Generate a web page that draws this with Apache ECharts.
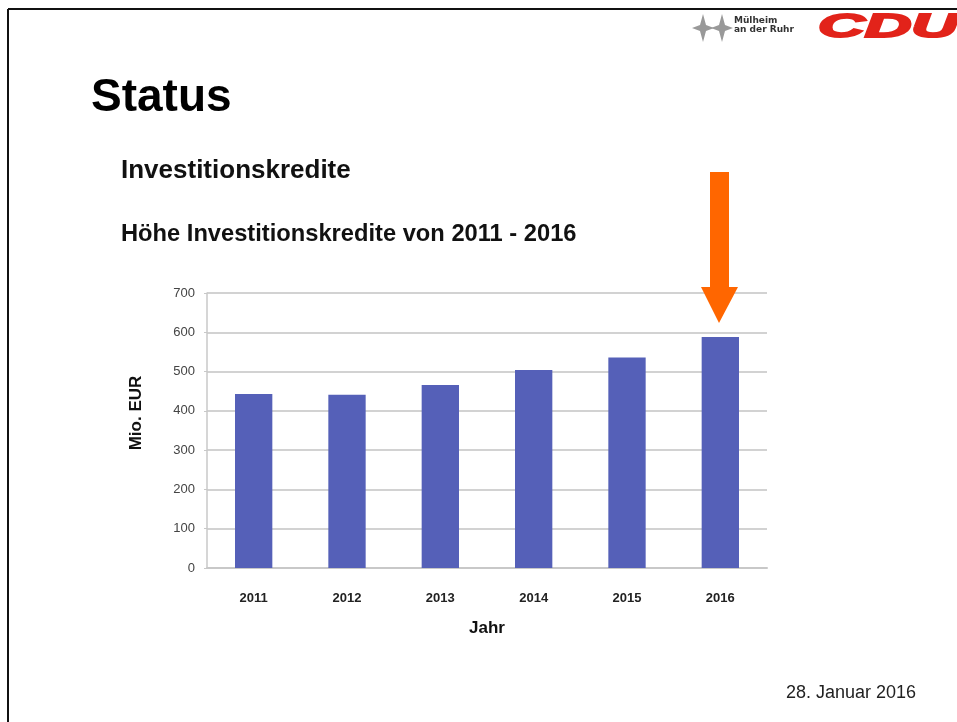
<!DOCTYPE html>
<html>
<head>
<meta charset="utf-8">
<script src="https://cdn.jsdelivr.net/npm/echarts@6/dist/echarts.min.js"></script>
<style>
  html, body { margin: 0; padding: 0; background: #fff; }
  #chart { width: 957px; height: 722px; }
</style>
</head>
<body>
<div id="chart"></div>
<script>
const years = ['2011', '2012', '2013', '2014', '2015', '2016'];
const credits = [443, 441, 466, 504, 536, 588];
const yMin = 0;
const yMax = 700;
const yStep = 100;

const FONT = '"Liberation Sans", Arial, sans-serif';

// little four-pointed star for the city logo
const star = (cx, cy) => ({
    type: 'polygon',
    shape: {
        points: [
            [cx, cy - 14], [cx + 3, cy - 3], [cx + 11, cy], [cx + 3, cy + 3],
            [cx, cy + 14], [cx - 3, cy + 3], [cx - 11, cy], [cx - 3, cy - 3]
        ]
    },
    style: { fill: '#999' }
});

const chart = echarts.init(document.getElementById('chart'), null, { renderer: 'canvas' });

chart.setOption({
    backgroundColor: '#fff',
    animation: false,
    grid: { left: 207, right: 190, top: 293, bottom: 154 },
    xAxis: {
        type: 'category',
        data: years,
        name: 'Jahr',
        nameLocation: 'middle',
        nameGap: 52,
        nameTextStyle: { fontFamily: FONT, fontSize: 17, fontWeight: 'bold', color: '#111' },
        axisLine: { lineStyle: { color: '#c8c8c8', width: 2 } },
        axisTick: { show: false },
        axisLabel: { margin: 24, fontFamily: FONT, fontSize: 13, fontWeight: 'bold', color: '#222' }
    },
    yAxis: {
        type: 'value',
        min: yMin,
        max: yMax,
        interval: yStep,
        axisLine: { show: true, lineStyle: { color: '#c8c8c8', width: 1.5 } },
        axisTick: { show: true, length: 3, lineStyle: { color: '#c8c8c8' } },
        axisLabel: { margin: 12, fontFamily: FONT, fontSize: 13, color: '#444' },
        splitLine: { lineStyle: { color: '#d2d2d2', width: 2 } }
    },
    series: [{
        type: 'bar',
        data: credits,
        barWidth: '40%',
        itemStyle: { color: '#5560b8' }
    }],
    graphic: [
        // slide frame
        { type: 'line', shape: { x1: 8, y1: 9, x2: 957, y2: 9 }, style: { stroke: '#111', lineWidth: 2 } },
        { type: 'line', shape: { x1: 8, y1: 9, x2: 8, y2: 722 }, style: { stroke: '#111', lineWidth: 2 } },
        // logo
        star(703, 28),
        star(722, 28),
        { type: 'text', left: 734, top: 16, style: { text: 'Mülheim', font: 'bold 9px "DejaVu Sans", sans-serif', fill: '#333' } },
        { type: 'text', left: 734, top: 25, style: { text: 'an der Ruhr', font: 'bold 9px "DejaVu Sans", sans-serif', fill: '#333' } },
        { type: 'text', x: 818, y: 28, scaleX: 1.9, style: { text: 'CDU', font: 'italic bold 34px ' + FONT, fill: '#e2231a', stroke: '#e2231a', lineWidth: 2, verticalAlign: 'middle' } },
        // headings
        { type: 'text', x: 91, y: 98, style: { text: 'Status', font: 'bold 46px ' + FONT, fill: '#000', verticalAlign: 'middle' } },
        { type: 'text', x: 121, y: 171, style: { text: 'Investitionskredite', font: 'bold 26px ' + FONT, fill: '#111', verticalAlign: 'middle' } },
        { type: 'text', x: 121, y: 234, style: { text: 'Höhe Investitionskredite von 2011 - 2016', font: 'bold 23.7px ' + FONT, fill: '#111', verticalAlign: 'middle' } },
        { type: 'text', x: 786, y: 693, style: { text: '28. Januar 2016', font: '18px ' + FONT, fill: '#222', verticalAlign: 'middle' } },
        // y axis title, sits a bit above the plot centre
        { type: 'text', x: 136, y: 413, rotation: Math.PI / 2, style: { text: 'Mio. EUR', font: 'bold 17px ' + FONT, fill: '#111', align: 'center', verticalAlign: 'middle' } },
        // orange arrow pointing at 2016
        { type: 'polygon', z: 100, shape: { points: [[710, 172], [729, 172], [729, 287], [738, 287], [719, 323], [701, 287], [710, 287]] }, style: { fill: '#ff6600' } }
    ]
});
</script>
</body>
</html>
